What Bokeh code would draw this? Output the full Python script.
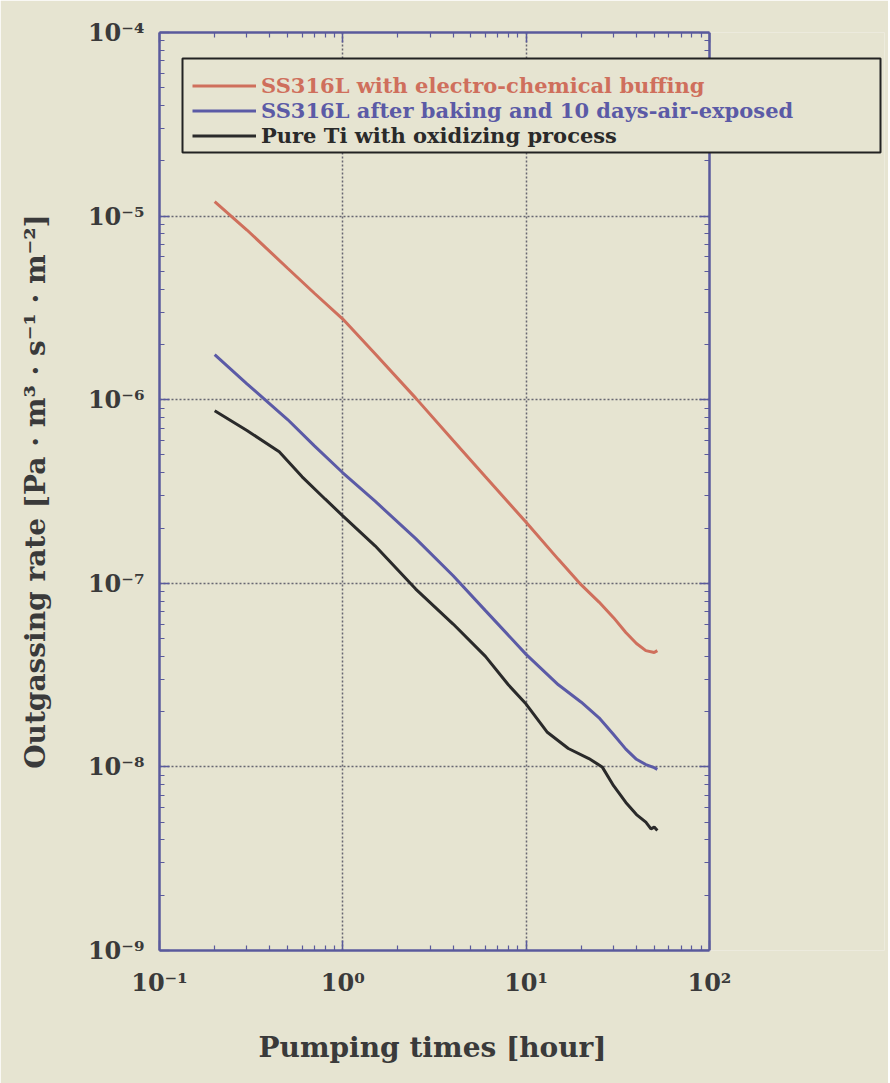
from bokeh.plotting import figure
from bokeh.models import LogAxis, FixedTicker, Legend, LegendItem, BoxAnnotation, Title
from bokeh.embed import file_html
from bokeh.resources import INLINE

# ---------------- data ----------------
red_time = [0.2, 0.3, 0.5, 0.7, 1.0, 1.5, 2.5, 4.0, 6.0, 10, 15, 20, 25, 30, 35, 40, 45, 50, 52]
red_rate = [1.2e-5, 8.4e-6, 5.2e-6, 3.8e-6, 2.75e-6, 1.78e-6, 1.02e-6, 6.0e-7, 3.8e-7, 2.15e-7,
            1.35e-7, 9.8e-8, 7.9e-8, 6.5e-8, 5.4e-8, 4.7e-8, 4.3e-8, 4.2e-8, 4.3e-8]

blue_time = [0.2, 0.3, 0.5, 0.7, 1.0, 1.5, 2.5, 4.0, 6.0, 10, 15, 20, 25, 30, 35, 40, 45, 50, 52]
blue_rate = [1.76e-6, 1.22e-6, 7.8e-7, 5.6e-7, 4.0e-7, 2.8e-7, 1.75e-7, 1.1e-7, 7.1e-8, 4.1e-8,
             2.8e-8, 2.25e-8, 1.85e-8, 1.5e-8, 1.25e-8, 1.1e-8, 1.03e-8, 9.9e-9, 9.7e-9]

black_time = [0.2, 0.3, 0.45, 0.6, 0.8, 1.0, 1.5, 2.5, 4.0, 6.0, 8.0, 10, 13, 17, 22, 26, 30,
              35, 40, 45, 48, 50, 52]
black_rate = [8.7e-7, 6.8e-7, 5.2e-7, 3.8e-7, 2.88e-7, 2.33e-7, 1.6e-7, 9.3e-8, 6.0e-8, 4.0e-8,
              2.8e-8, 2.2e-8, 1.55e-8, 1.26e-8, 1.11e-8, 1.0e-8, 7.9e-9, 6.4e-9, 5.5e-9, 5.0e-9,
              4.6e-9, 4.7e-9, 4.5e-9]

series_labels = ["SS316L with electro-chemical buffing",
                 "SS316L after baking and 10 days-air-exposed",
                 "Pure Ti with oxidizing process"]

x_ticks = [0.1, 1, 10, 100]
x_tick_labels = ["10\u207b\u00b9", "10\u2070", "10\u00b9", "10\u00b2"]
y_ticks = [1e-9, 1e-8, 1e-7, 1e-6, 1e-5, 1e-4]
y_tick_labels = ["10\u207b\u2079", "10\u207b\u2078", "10\u207b\u2077",
                 "10\u207b\u2076", "10\u207b\u2075", "10\u207b\u2074"]

x_label = "Pumping times [hour]"
y_label = "Outgassing rate [Pa \u00b7 m\u00b3 \u00b7 s\u207b\u00b9 \u00b7 m\u207b\u00b2]"

# ---------------- style ----------------
BG = "#e6e4d1"
FRAME = "#5a5a9c"
TEXT = "#3a3a3a"
GRID = "#505060"
RED = "#cf6f5c"
BLUE = "#5b5aa6"
BLACK = "#2a2a2a"
FONT = "DejaVu Serif"

X_MIN, X_MAX = 0.1, 100
FRAME_W = 725
PX_PER_DECADE = 183.3
x_view_end = 10 ** (-1 + FRAME_W / PX_PER_DECADE)   # frame extends right so the legend can overhang

x_minor = [m * 10.0 ** e for e in range(-1, 2) for m in range(2, 10)]
y_minor = [m * 10.0 ** e for e in range(-9, -4) for m in range(2, 10)]

p = figure(x_axis_type="log", y_axis_type="log",
           x_range=(X_MIN, x_view_end), y_range=(1e-9, 1e-4),
           frame_width=FRAME_W, frame_height=918,
           min_border_left=159, min_border_right=4,
           min_border_top=32, min_border_bottom=133,
           output_backend="svg", toolbar_location=None,
           background_fill_color=BG, border_fill_color=BG)
p.outline_line_color = None


def style_axis(ax, ticks, minor, labels, show):
    ax.ticker = FixedTicker(ticks=ticks, minor_ticks=minor)
    ax.axis_line_color = FRAME
    ax.axis_line_width = 2.5
    ax.major_tick_line_color = FRAME
    ax.major_tick_line_width = 1.5
    ax.minor_tick_line_color = FRAME
    ax.minor_tick_line_width = 1.2
    ax.major_tick_in = 10
    ax.major_tick_out = 0
    ax.minor_tick_in = 5
    ax.minor_tick_out = 0
    if show:
        ax.major_label_overrides = dict(zip(ticks, labels))
        ax.major_label_text_font = FONT
        ax.major_label_text_font_style = "bold"
        ax.major_label_text_font_size = "24px"
        ax.major_label_text_color = TEXT
        ax.axis_label_text_font = FONT
        ax.axis_label_text_font_style = "bold"
        ax.axis_label_text_font_size = "28px"
        ax.axis_label_text_color = TEXT
    else:
        ax.major_label_text_color = None
        ax.major_label_text_font_size = "1px"
        ax.major_label_standoff = 0


xa = p.xaxis[0]
ya = p.yaxis[0]
style_axis(xa, x_ticks, x_minor, x_tick_labels, True)
style_axis(ya, y_ticks, y_minor, y_tick_labels, True)
xa.bounds = (X_MIN, X_MAX)
ya.axis_label = y_label
xa.major_label_standoff = 17
ya.major_label_standoff = 15
ya.axis_label_standoff = 33

# x-axis title: centred under the axes box (0.1 .. 100), not under the widened frame
if "standoff" in Title.properties():
    xt = Title(text=x_label, align="left", offset=99, standoff=58,
               text_font=FONT, text_font_style="bold", text_font_size="28px",
               text_color=TEXT)
    p.add_layout(xt, "below")
else:
    xa.axis_label = x_label
    xa.axis_label_standoff = 50

top_ax = LogAxis(bounds=(X_MIN, X_MAX))
right_ax = LogAxis(fixed_location=X_MAX)
style_axis(top_ax, x_ticks, x_minor, x_tick_labels, False)
style_axis(right_ax, y_ticks, y_minor, y_tick_labels, False)
p.add_layout(top_ax, "above")
p.add_layout(right_ax, "right")

xg = p.xgrid[0]
yg = p.ygrid[0]
xg.ticker = FixedTicker(ticks=x_ticks[1:-1])
grid_list = [xg]
if "cross_bounds" in yg.properties():
    yg.ticker = FixedTicker(ticks=y_ticks[1:-1])
    yg.cross_bounds = (X_MIN, X_MAX)
    grid_list.append(yg)
else:
    yg.visible = False
    gy = y_ticks[1:-1]
    p.segment(x0=[X_MIN] * len(gy), x1=[X_MAX] * len(gy), y0=gy, y1=gy,
              line_color=GRID, line_width=1.5, line_dash="2 2", line_alpha=0.85)
for g in grid_list:
    g.grid_line_color = GRID
    g.grid_line_width = 1.5
    g.grid_line_dash = "2 2"
    g.grid_line_alpha = 0.85

r_red = p.line(red_time, red_rate, line_color=RED, line_width=3)
r_blue = p.line(blue_time, blue_rate, line_color=BLUE, line_width=3)
r_black = p.line(black_time, black_rate, line_color=BLACK, line_width=3)

# legend box (overhangs the right edge of the axes box, as in the original)
box = BoxAnnotation(left=23, right=721, top=892, bottom=798,
                    left_units="screen", right_units="screen",
                    top_units="screen", bottom_units="screen",
                    fill_color=BG, fill_alpha=1.0,
                    line_color="#222222", line_width=2, line_alpha=1.0,
                    level="annotation")
p.add_layout(box)

ROW = 25
for i, (r, lab, col) in enumerate(zip((r_red, r_blue, r_black), series_labels, (RED, BLUE, BLACK))):
    lg = Legend(items=[LegendItem(label=lab, renderers=[r])],
                location=(33, 852 - ROW * i),
                border_line_color=None, background_fill_alpha=0.0,
                padding=0, margin=0, spacing=0,
                glyph_width=64, glyph_height=ROW, label_height=ROW,
                label_standoff=5,
                label_text_font=FONT, label_text_font_style="bold",
                label_text_font_size="21px", label_text_color=col)
    p.add_layout(lg)

open("out.html", "w").write(file_html(p, INLINE))
